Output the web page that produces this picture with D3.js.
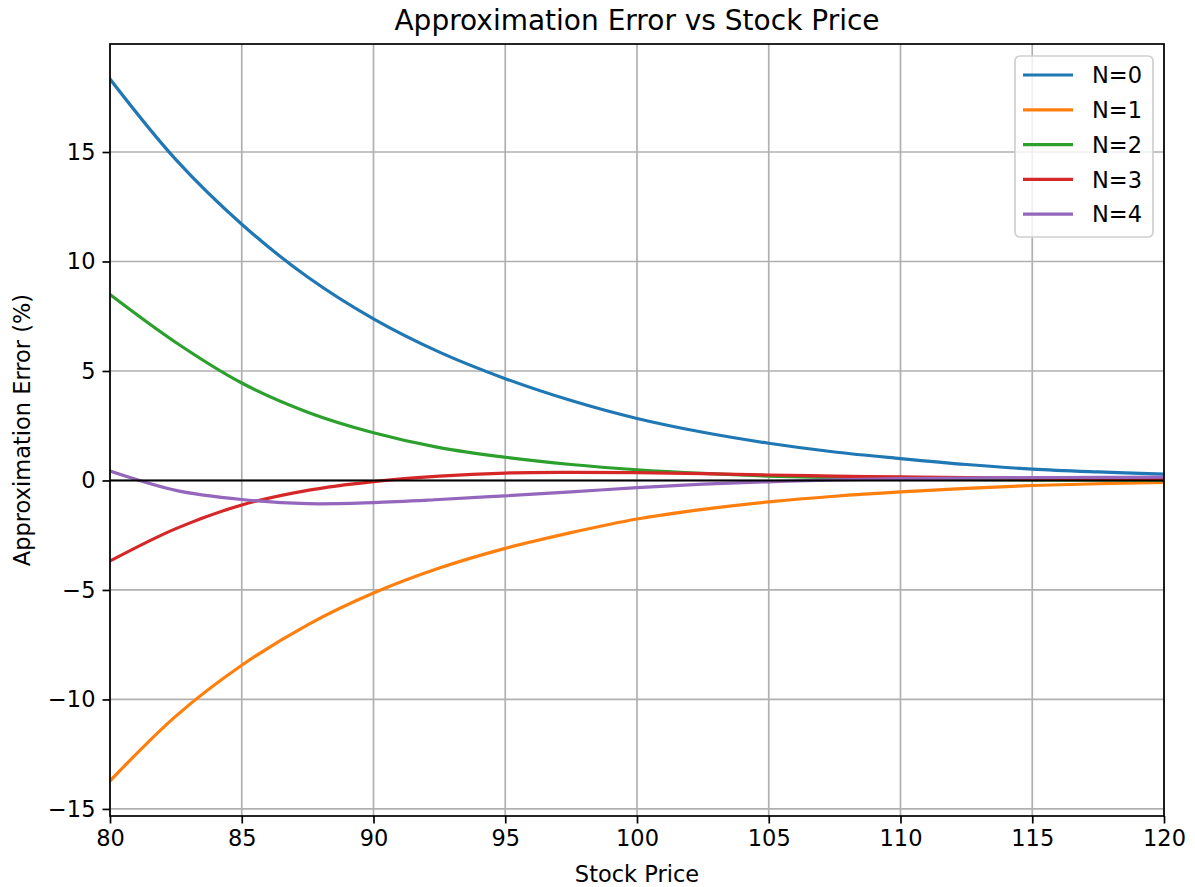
<!DOCTYPE html>
<html>
<head>
<meta charset="utf-8">
<script src="https://cdn.jsdelivr.net/npm/d3@7"></script>
<style>
  body { margin: 0; background: #fff; }
  text { font-family: "DejaVu Sans", sans-serif; fill: #000; }
</style>
</head>
<body>
<svg id="chart" width="1195" height="887"></svg>
<script>
const stockPrice = [80, 82.5, 85, 87.5, 90, 92.5, 95, 97.5, 100, 102.5, 105, 107.5, 110, 112.5, 115, 117.5, 120];
const errN0 = [18.33, 14.65, 11.7, 9.29, 7.38, 5.86, 4.65, 3.65, 2.83, 2.2, 1.70, 1.3, 1.0, 0.73, 0.52, 0.39, 0.29];
const errN1 = [-13.72, -10.76, -8.44, -6.59, -5.14, -4.0, -3.1, -2.38, -1.76, -1.32, -0.98, -0.72, -0.52, -0.36, -0.23, -0.15, -0.09];
const errN2 = [8.49, 6.3, 4.45, 3.12, 2.18, 1.5, 1.06, 0.73, 0.49, 0.32, 0.2, 0.13, 0.08, 0.05, 0.03, 0.02, 0.01];
const errN3 = [-3.68, -2.2, -1.12, -0.45, -0.05, 0.2, 0.34, 0.37, 0.36, 0.31, 0.25, 0.2, 0.16, 0.13, 0.1, 0.08, 0.06];
const errN4 = [0.43, -0.45, -0.87, -1.06, -1.01, -0.87, -0.70, -0.52, -0.33, -0.17, -0.06, 0.03, 0.08, 0.11, 0.13, 0.14, 0.15];
const seriesNames = ["N=0", "N=1", "N=2", "N=3", "N=4"];
const seriesColors = ["#1f77b4", "#ff7f0e", "#2ca02c", "#d62728", "#9467bd"];
const xTicks = [80, 85, 90, 95, 100, 105, 110, 115, 120];
const yTicks = [-15, -10, -5, 0, 5, 10, 15];
const titleText = "Approximation Error vs Stock Price";
const xLabel = "Stock Price";
const yLabel = "Approximation Error (%)";

const allSeries = [errN0, errN1, errN2, errN3, errN4];
const svg = d3.select("#chart");
const L = 110, R = 1164, T = 44, B = 816;

const x = d3.scaleLinear().domain([80, 120]).range([L, R]);
const allVals = allSeries.flat();
const ymin = d3.min(allVals), ymax = d3.max(allVals);
const pad = (ymax - ymin) * 0.05;
const y = d3.scaleLinear().domain([ymin - pad, ymax + pad]).range([B, T]);

// grid
const grid = svg.append("g");
grid.selectAll(".gx").data(xTicks).join("line")
  .attr("x1", d => x(d)).attr("x2", d => x(d)).attr("y1", T).attr("y2", B)
  .attr("stroke", "#b0b0b0").attr("stroke-width", 1.7);
grid.selectAll(".gy").data(yTicks).join("line")
  .attr("x1", L).attr("x2", R).attr("y1", d => y(d)).attr("y2", d => y(d))
  .attr("stroke", "#b0b0b0").attr("stroke-width", 1.7);

// clip
svg.append("clipPath").attr("id", "clip").append("rect")
  .attr("x", L).attr("y", T).attr("width", R - L).attr("height", B - T);

const line = d3.line().x((d, i) => x(stockPrice[i])).y(d => y(d)).curve(d3.curveCatmullRom.alpha(0.5));
const plot = svg.append("g").attr("clip-path", "url(#clip)");
allSeries.forEach((s, k) => {
  plot.append("path").attr("d", line(s)).attr("fill", "none")
    .attr("stroke", seriesColors[k]).attr("stroke-width", 3.2).attr("stroke-linecap", "square");
});
plot.append("line").attr("x1", L).attr("x2", R).attr("y1", y(0)).attr("y2", y(0))
  .attr("stroke", "#000").attr("stroke-width", 2);

// axes
const xAxis = d3.axisBottom(x).tickValues(xTicks).tickSize(7.5).tickPadding(7).tickFormat(d3.format("d"));
const yAxis = d3.axisLeft(y).tickValues(yTicks).tickSize(7.5).tickPadding(7)
  .tickFormat(d => d < 0 ? "\u2212" + Math.abs(d) : String(d));
const gx = svg.append("g").attr("transform", `translate(0,${B})`).call(xAxis);
const gy = svg.append("g").attr("transform", `translate(${L},0)`).call(yAxis);
[gx, gy].forEach(g => {
  g.select(".domain").remove();
  g.selectAll(".tick line").attr("stroke", "#000").attr("stroke-width", 1.7);
  g.selectAll(".tick text").attr("font-family", "DejaVu Sans").attr("font-size", 22.5).attr("fill", "#000");
});

// spines
svg.append("rect").attr("x", L).attr("y", T).attr("width", R - L).attr("height", B - T)
  .attr("fill", "none").attr("stroke", "#000").attr("stroke-width", 1.7);

// title and labels
svg.append("text").attr("x", (L + R) / 2).attr("y", 30).attr("text-anchor", "middle")
  .attr("font-size", 28).text(titleText);
svg.append("text").attr("x", (L + R) / 2).attr("y", 882).attr("text-anchor", "middle")
  .attr("font-size", 22.5).text(xLabel);
svg.append("text").attr("transform", `translate(30,${(T + B) / 2}) rotate(-90)`).attr("text-anchor", "middle")
  .attr("font-size", 22.5).text(yLabel);

// legend
const lg = svg.append("g");
lg.append("rect").attr("x", 1015).attr("y", 56).attr("width", 138).attr("height", 181)
  .attr("rx", 5).attr("fill", "rgba(255,255,255,0.8)").attr("stroke", "#d0d0d0").attr("stroke-width", 1.7);
seriesNames.forEach((n, k) => {
  const yy = 75 + k * 34.8;
  lg.append("line").attr("x1", 1023).attr("x2", 1073).attr("y1", yy).attr("y2", yy)
    .attr("stroke", seriesColors[k]).attr("stroke-width", 3.2);
  lg.append("text").attr("x", 1092).attr("y", yy).attr("dy", "0.36em").attr("font-size", 22.5).text(n);
});
</script>
</body>
</html>
